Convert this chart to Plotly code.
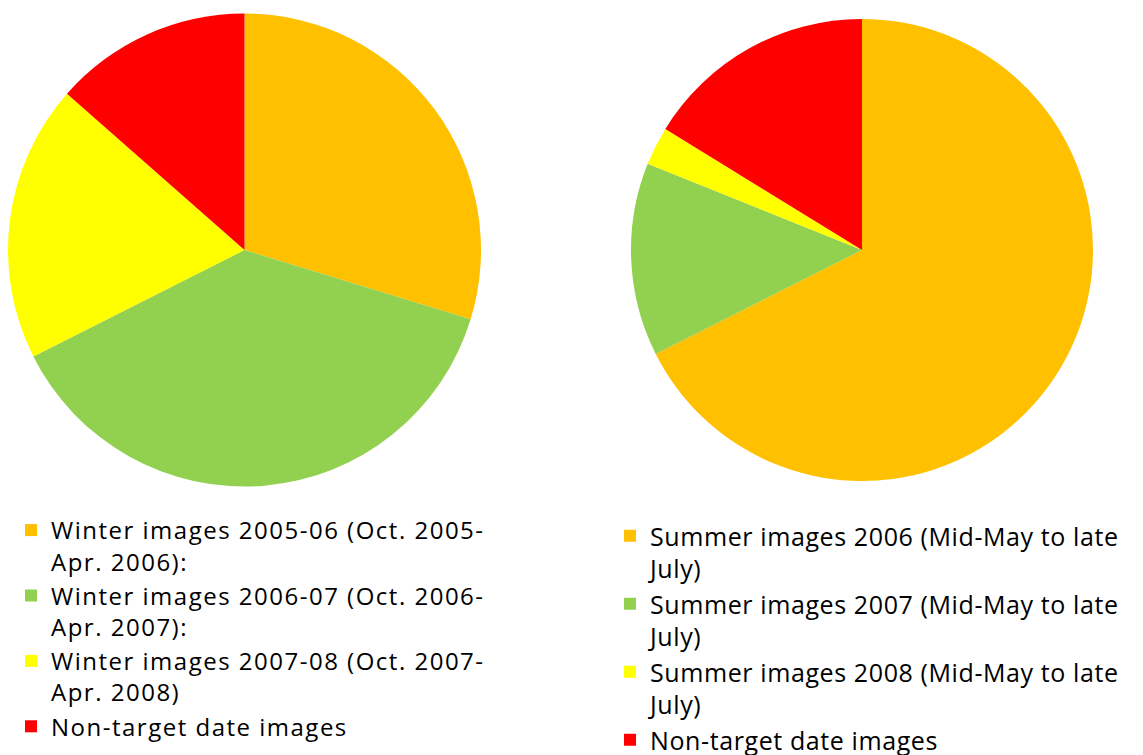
import plotly.graph_objects as go

# ---- data ----
winter_labels = [
    ["Winter images 2005-06 (Oct. 2005-", "Apr. 2006):"],
    ["Winter images 2006-07 (Oct. 2006-", "Apr. 2007):"],
    ["Winter images 2007-08 (Oct. 2007-", "Apr. 2008)"],
    ["Non-target date images"],
]
winter_counts = [11, 14, 7, 5]

summer_labels = [
    ["Summer images 2006 (Mid-May to late", "July)"],
    ["Summer images 2007 (Mid-May to late", "July)"],
    ["Summer images 2008 (Mid-May to late", "July)"],
    ["Non-target date images"],
]
summer_counts = [25, 5, 1, 6]

slice_colors = ["#FFC000", "#92D050", "#FFFF00", "#FF0000"]

W, H = 1143, 755
OFF = 8  # page body margin, figure is drawn 8px right/down
FONT = "Open Sans"


def dom(x0, x1, y0, y1):
    # screen pixel box -> paper domain
    x0, x1, y0, y1 = x0 - OFF, x1 - OFF, y0 - OFF, y1 - OFF
    return dict(x=[x0 / W, x1 / W], y=[1 - y1 / H, 1 - y0 / H])


def legend_name(lines, spacing):
    # widen the text a bit, the original font (Calibri) runs wider
    return "<br>".join(
        f"<span style='letter-spacing:{spacing}px'>{ln}</span>" for ln in lines
    )


fig = go.Figure()

fig.add_trace(go.Pie(
    labels=[legend_name(l, 1.5) for l in winter_labels], values=winter_counts,
    marker=dict(colors=slice_colors, line=dict(width=0)),
    sort=False, direction="clockwise", rotation=0,
    textinfo="none", domain=dom(8, 481, 13, 487),
    legend="legend",
))

fig.add_trace(go.Pie(
    labels=[legend_name(l, 0.6) for l in summer_labels], values=summer_counts,
    marker=dict(colors=slice_colors, line=dict(width=0)),
    sort=False, direction="clockwise", rotation=0,
    textinfo="none", domain=dom(631, 1093, 19, 481),
    legend="legend2",
))

legend_style = dict(
    xanchor="left", yanchor="top", valign="top",
    bgcolor="rgba(0,0,0,0)", itemclick=False, itemdoubleclick=False,
)

fig.update_layout(
    width=W, height=H,
    margin=dict(l=0, r=0, t=0, b=0),
    paper_bgcolor="white", plot_bgcolor="white",
    font=dict(family=FONT, color="black"),
    showlegend=True,
    legend=dict(x=(11 - OFF) / W, y=1 - (508 - OFF) / H,
                font=dict(family=FONT, size=24, color="black"), **legend_style),
    legend2=dict(x=(610 - OFF) / W, y=1 - (513 - OFF) / H,
                 font=dict(family=FONT, size=25, color="black"), **legend_style),
)

fig.write_html("out.html", config={"staticPlot": True})
